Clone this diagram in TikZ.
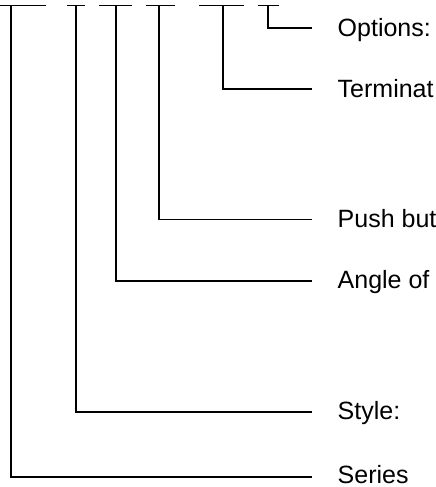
\documentclass[tikz,border=0pt]{standalone}
\usepackage{fontspec}
\setmainfont{Liberation Sans}
\begin{document}
\begin{tikzpicture}[x=1pt,y=-1pt,
  wire/.style={line width=1.6pt,line cap=rect},
  lbl/.style={anchor=base west,inner sep=0pt,font=\fontsize{25}{29}\selectfont}]
\useasboundingbox (0,0) rectangle (436,487);
% top bars
\coordinate (b1l) at (0,5.5);   \coordinate (b1r) at (45,5.5);  \coordinate (t1) at (11,5.5);
\coordinate (b2l) at (68,5.5);  \coordinate (b2r) at (84,5.5);  \coordinate (t2) at (76,5.5);
\coordinate (b3l) at (100,5.5); \coordinate (b3r) at (131,5.5); \coordinate (t3) at (116,5.5);
\coordinate (b4l) at (147,5.5); \coordinate (b4r) at (174,5.5); \coordinate (t4) at (159,5.5);
\coordinate (b5l) at (200,5.5); \coordinate (b5r) at (243,5.5); \coordinate (t5) at (223,5.5);
\coordinate (b6l) at (259,5.5); \coordinate (b6r) at (278,5.5); \coordinate (t6) at (268,5.5);
% line ends
\coordinate (e6) at (311,28);
\coordinate (e5) at (311,89);
\coordinate (e4) at (311,219.5);
\coordinate (e3) at (311,281);
\coordinate (e2) at (311,412);
\coordinate (e1) at (311,477);
% labels
\node[lbl] (opt) at (337.5,36.5) {Options:};
\node[lbl] (term) at (337.5,97) {Terminat};
\node[lbl] (push) at (337.5,227) {Push but};
\node[lbl] (ang) at (337.5,288.5) {Angle of};
\node[lbl] (sty) at (337.5,419.3) {Style:};
\node[lbl] (ser) at (337.5,483.3) {Series};
% wires
\draw[wire] (b1l) -- (b1r);
\draw[wire] (b2l) -- (b2r);
\draw[wire] (b3l) -- (b3r);
\draw[wire] (b4l) -- (b4r);
\draw[wire] (b5l) -- (b5r);
\draw[wire] (b6l) -- (b6r);
\draw[wire] (t1) |- (e1);
\draw[wire] (t2) |- (e2);
\draw[wire] (t3) |- (e3);
\draw[wire] (t4) |- (e4);
\draw[wire] (t5) |- (e5);
\draw[wire] (t6) |- (e6);
\end{tikzpicture}
\end{document}
